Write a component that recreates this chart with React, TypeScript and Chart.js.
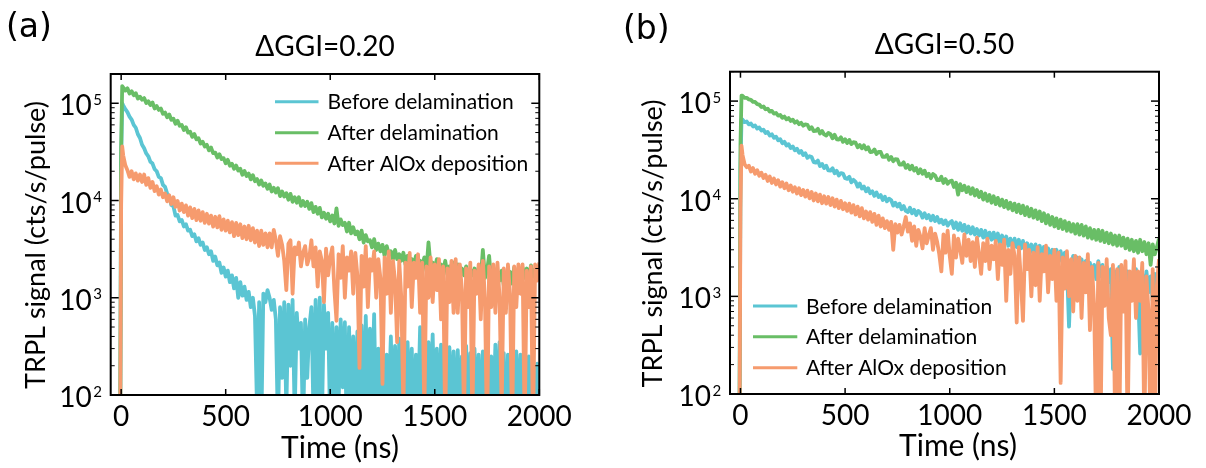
import React, { useEffect, useRef } from "react";
import { Chart, registerables } from "chart.js";

Chart.register(...registerables);

// ---------------- DATA ----------------
const TIME_NS = [
  -20, -5, 0, 5,
  10, 20, 30, 40, 50, 60, 70, 80, 90, 100,
  110, 120, 130, 140, 150, 160, 170, 180, 190, 200,
  210, 220, 230, 240, 250, 260, 270, 280, 290, 300,
  310, 320, 330, 340, 350, 360, 370, 380, 390, 400,
  410, 420, 430, 440, 450, 460, 470, 480, 490, 500,
  510, 520, 530, 540, 550, 560, 570, 580, 590, 600,
  610, 620, 630, 640, 650, 660, 670, 680, 690, 700,
  710, 720, 730, 740, 750, 760, 770, 780, 790, 800,
  810, 820, 830, 840, 850, 860, 870, 880, 890, 900,
  910, 920, 930, 940, 950, 960, 970, 980, 990, 1000,
  1010, 1020, 1030, 1040, 1050, 1060, 1070, 1080, 1090, 1100,
  1110, 1120, 1130, 1140, 1150, 1160, 1170, 1180, 1190, 1200,
  1210, 1220, 1230, 1240, 1250, 1260, 1270, 1280, 1290, 1300,
  1310, 1320, 1330, 1340, 1350, 1360, 1370, 1380, 1390, 1400,
  1410, 1420, 1430, 1440, 1450, 1460, 1470, 1480, 1490, 1500,
  1510, 1520, 1530, 1540, 1550, 1560, 1570, 1580, 1590, 1600,
  1610, 1620, 1630, 1640, 1650, 1660, 1670, 1680, 1690, 1700,
  1710, 1720, 1730, 1740, 1750, 1760, 1770, 1780, 1790, 1800,
  1810, 1820, 1830, 1840, 1850, 1860, 1870, 1880, 1890, 1900,
  1910, 1920, 1930, 1940, 1950, 1960, 1970, 1980, 1990, 2000,
];

// Panel (a) ΔGGI=0.20
const A_BEFORE = [
  10, 12, 25000, 100000,
  95000, 87000, 81000, 73000, 68000, 60000, 56000, 48000, 44000, 37500,
  34500, 30500, 28500, 25000, 24000, 21000, 20000, 17500, 17000, 14500,
  13800, 11800, 11000, 9000, 8700, 7000, 7100, 6100, 6300, 5400,
  5700, 4900, 5000, 4300, 4500, 3800, 4100, 3500, 3700, 3100,
  3300, 2800, 3000, 2400, 2650, 2150, 2300, 1800, 2050, 1650,
  1900, 1450, 1700, 1250, 1600, 1000, 1450, 1050, 1300, 950,
  1150, 800, 1000, 650, 70, 900, 40, 1100, 900, 1200,
  1000, 750, 950, 600, 45, 800, 150, 900, 70, 850,
  200, 950, 60, 700, 300, 550, 40, 600, 150, 500,
  800, 60, 950, 90, 1000, 50, 850, 300, 700, 40,
  550, 60, 500, 80, 600, 120, 560, 30, 500, 70,
  400, 50, 450, 90, 520, 30, 650, 70, 480, 100,
  680, 40, 300, 60, 350, 25, 260, 80, 400, 50,
  320, 40, 380, 90, 280, 30, 350, 60, 300, 40,
  260, 70, 500, 60, 580, 30, 350, 80, 420, 45,
  300, 50, 330, 80, 260, 25, 310, 60, 280, 40,
  290, 70, 250, 30, 320, 55, 270, 35, 300, 60,
  260, 40, 280, 75, 310, 30, 250, 60, 330, 45,
  350, 50, 270, 30, 260, 70, 240, 40, 280, 55,
  260, 35, 270, 60, 250, 30, 240, 65, 210, 40,
];

const A_AFTER = [
  20, 25, 35000, 150000,
  145000, 135000, 142500, 126000, 133000, 121000, 127000, 112000, 117000, 108600,
  113000, 100700, 105000, 96000, 101800, 88400, 93700, 85400, 88400, 77900,
  80300, 71700, 76600, 67700, 69400, 61600, 66200, 58700, 59700, 53200,
  56700, 49900, 51000, 45100, 48300, 42700, 43700, 38500, 40200, 36000,
  37400, 32800, 35000, 30700, 31100, 27700, 29900, 26700, 27300, 24200,
  26200, 22800, 23900, 21200, 22900, 20300, 21200, 18400, 20100, 17900,
  18900, 16500, 18200, 15800, 16600, 14600, 16100, 14200, 15000, 13200,
  14600, 12400, 13500, 12100, 13400, 11100, 12400, 11000, 11900, 10200,
  11700, 9700, 10800, 9500, 10800, 8800, 9900, 8800, 9700, 8200,
  9400, 7600, 8600, 7300, 8400, 6700, 7500, 6500, 7300, 6100,
  7000, 5800, 8300, 5500, 6400, 5600, 5900, 4800, 5900, 4600,
  5300, 4500, 4800, 4000, 4900, 3700, 4400, 3800, 3900, 3300,
  4000, 3100, 3600, 3000, 3500, 2700, 3400, 2800, 3000, 2500,
  3100, 2500, 2800, 2400, 2900, 2200, 2700, 2300, 2500, 2150,
  2700, 2100, 2400, 2100, 2600, 1900, 3700, 2100, 2300, 1950,
  2500, 1900, 2200, 1900, 2400, 1750, 2100, 1800, 2300, 1700,
  2200, 1650, 2000, 1700, 2100, 1600, 1950, 1700, 2000, 1500,
  2050, 1550, 3100, 1600, 1900, 2700, 1450, 2000, 1550, 1850,
  1500, 1900, 1350, 780, 1500, 1850, 1400, 2050, 1550, 1900,
  1450, 2050, 1600, 2000, 1500, 2150, 1650, 1950, 1700, 2100,
];

const A_ALOX = [
  10, 20, 9000, 36000,
  29000, 23000, 20500, 17500, 20000, 16500, 19000, 16000, 18500, 15500,
  18500, 14500, 17000, 13500, 15500, 12500, 14000, 11500, 13000, 10800,
  11800, 9800, 11300, 9200, 10800, 8600, 9900, 7900, 9300, 7600,
  8900, 7000, 8500, 6600, 8200, 6300, 7900, 6200, 7600, 5900,
  7300, 5800, 7000, 5400, 6800, 5300, 6900, 5000, 6400, 4900,
  6200, 4700, 6000, 4300, 5900, 4400, 5700, 4100, 5400, 4000,
  5500, 3900, 5200, 3700, 4900, 3400, 4900, 3500, 4600, 3300,
  4600, 3300, 5000, 3900, 2700, 4300, 3500, 2400, 1200, 3600,
  3900, 1100, 3300, 2800, 3700, 2100, 2900, 3400, 2200, 2600,
  3900, 2100, 3300, 1300, 3000, 2400, 900, 3200, 1700, 2600,
  3300, 1200, 580, 2800, 1600, 3400, 1000, 2600, 1900, 3000,
  1100, 2900, 1700, 190, 2700, 1300, 3400, 800, 2500, 1900,
  3000, 1000, 2500, 1600, 130, 2600, 1100, 3000, 700, 2400,
  1500, 350, 2400, 1000, 70, 2300, 1300, 2900, 800, 2300,
  1600, 2800, 700, 2300, 60, 2100, 1000, 2600, 900, 2200,
  1200, 2500, 600, 2100, 45, 2000, 900, 2400, 700, 2500,
  700, 2200, 1200, 55, 2000, 800, 2300, 50, 1900, 1100,
  2200, 600, 2400, 1000, 35, 2100, 800, 2200, 700, 2300,
  1000, 70, 2000, 700, 2200, 1100, 40, 2100, 800, 2200,
  1100, 2200, 45, 1900, 800, 2100, 40, 2200, 1500, 2300,
];

// Panel (b) ΔGGI=0.50
const B_BEFORE = [
  10, 15, 20000, 65000,
  64500, 60800, 61800, 57700, 58900, 55000, 56200, 52300, 53600, 50000,
  51000, 47000, 48300, 44400, 45700, 42000, 43200, 39600, 40700, 37000,
  38300, 35000, 36200, 33000, 34300, 31300, 32500, 29600, 30900, 28000,
  29200, 26200, 27300, 26700, 23700, 23400, 24600, 21600, 22700, 20600,
  21800, 19500, 19400, 20500, 18200, 19300, 17300, 18300, 18100, 16200,
  16000, 16800, 14700, 15600, 14900, 13300, 14300, 12700, 13300, 11900,
  12800, 11400, 11900, 10700, 11600, 10400, 10900, 9700, 10500, 9400,
  10000, 9700, 8500, 9100, 8300, 8900, 7800, 8400, 7500, 7300,
  8100, 7100, 7700, 6800, 7500, 7200, 6400, 7100, 6300, 6800,
  6000, 6700, 5900, 6500, 5700, 6100, 5500, 6000, 5300, 5700,
  5900, 5000, 5700, 4800, 5600, 4700, 5400, 4500, 5200, 4400,
  5100, 4300, 4900, 4200, 4800, 4000, 4700, 3900, 4500, 3800,
  4500, 3700, 4400, 3500, 4200, 3400, 4100, 3300, 3900, 3200,
  3900, 3200, 3800, 3100, 3700, 2900, 3500, 2800, 3400, 2700,
  3400, 2700, 3300, 2600, 3200, 2500, 3100, 2400, 3000, 2300,
  3000, 2300, 2900, 2200, 2800, 2100, 490, 2000, 2600, 1900,
  2500, 1900, 2400, 1800, 2300, 1700, 2200, 1600, 2100, 1500,
  2300, 1600, 2100, 1500, 2000, 1400, 1900, 180, 1800, 1300,
  2000, 1300, 1900, 1200, 1800, 1100, 1700, 1000, 1900, 1100,
  260, 1700, 1000, 1800, 1100, 1600, 900, 1700, 1000, 1500,
];

const B_AFTER = [
  20, 30, 36000, 114000,
  113000, 108000, 108000, 104000, 103000, 98000, 98000, 93000, 92000, 87000,
  88000, 82500, 83500, 78000, 79500, 74500, 75500, 71000, 72000, 67500,
  69500, 65000, 67000, 62500, 64500, 60000, 62000, 58000, 60000, 56000,
  57700, 57200, 51800, 54100, 49400, 49500, 52000, 46600, 49400, 45600,
  44400, 47200, 45900, 41600, 45200, 40600, 40400, 42500, 38200, 40700,
  37200, 40000, 36300, 37900, 37500, 33600, 35500, 32800, 35300, 32000,
  33700, 30100, 30200, 32000, 28700, 30200, 30100, 26800, 26800, 28100,
  25100, 26800, 24200, 25400, 25300, 22400, 22300, 23600, 20700, 22100,
  20000, 21800, 19400, 20600, 18200, 20000, 18000, 19400, 17000, 18000,
  16200, 17900, 17300, 15500, 15500, 16800, 14500, 15900, 14200, 15100,
  15300, 13200, 14600, 11000, 14100, 12200, 13600, 11700, 13100, 11200,
  12800, 10800, 12300, 10400, 11800, 9800, 11300, 9500, 10900, 9100,
  10600, 8800, 10200, 8500, 9800, 8200, 9500, 7900, 9100, 7600,
  8900, 7300, 8700, 7100, 8500, 6800, 8200, 6600, 7900, 6400,
  7600, 6200, 7400, 5900, 7100, 5600, 6800, 5400, 6500, 5200,
  6300, 5000, 6100, 4900, 5900, 4700, 5700, 4600, 5500, 4400,
  5500, 4300, 5400, 4200, 5200, 4000, 5000, 3900, 4800, 3800,
  4800, 3700, 4700, 3600, 4500, 3500, 4400, 3400, 4200, 3300,
  4200, 3300, 4000, 3100, 3900, 3000, 3800, 2900, 3700, 2800,
  3800, 2900, 3600, 2700, 3500, 2100, 3400, 2700, 3200, 3900,
];

const B_ALOX = [
  10, 20, 8000, 35000,
  28000, 22500, 21000, 21800, 19000, 20600, 18000, 19600, 17200, 18500,
  16300, 17600, 15200, 16900, 14500, 16100, 14000, 15500, 13300, 14800,
  12800, 14300, 12200, 13700, 11800, 13100, 11300, 12800, 10900, 12300,
  10500, 12100, 10100, 11700, 9600, 11300, 9400, 11000, 9000, 10600,
  8900, 10400, 8600, 10100, 8300, 9800, 8000, 9500, 7800, 9000,
  7500, 8900, 7200, 8600, 6900, 8300, 6600, 8000, 6300, 7400,
  6100, 7300, 5800, 7000, 5400, 6700, 5200, 6300, 5000, 5900,
  4800, 5800, 3000, 5500, 4500, 5400, 4300, 5200, 6500, 4600,
  5600, 3700, 5200, 3300, 4800, 4100, 3100, 5000, 3500, 4200,
  5000, 3000, 4400, 3600, 2700, 1800, 4300, 2800, 4700, 2600,
  1700, 4200, 2500, 3900, 3000, 2200, 4300, 2600, 3800, 2300,
  3600, 2000, 4000, 2700, 1700, 3500, 2300, 3900, 1900, 3300,
  2400, 3700, 1500, 3400, 2100, 3800, 900, 3000, 1700, 3500,
  2600, 540, 3200, 1500, 560, 3400, 1900, 3000, 1000, 2800,
  1300, 3200, 900, 2700, 1800, 3300, 1100, 2600, 1500, 3000,
  900, 2800, 130, 2500, 1200, 2900, 1000, 2400, 700, 2600,
  900, 2500, 600, 2200, 1100, 2700, 450, 2000, 800, 40,
  2200, 30, 2000, 800, 2400, 600, 400, 2100, 60, 1900,
  35, 2100, 700, 2300, 40, 1800, 900, 2400, 600, 1800,
  900, 2200, 40, 1600, 700, 30, 1900, 35, 1300, 2400,
];

const SERIES_LABELS = ["Before delamination", "After delamination", "After AlOx deposition"];
const PANEL_TAGS = ["(a)", "(b)"];
const PANEL_TITLES = ["ΔGGI=0.20", "ΔGGI=0.50"];
const X_TITLE = "Time (ns)";
const Y_TITLE = "TRPL signal (cts/s/pulse)";
const X_TICKS = [0, 500, 1000, 1500, 2000];
const Y_DECADES = [2, 3, 4, 5];

// ---------------- STYLE / LAYOUT ----------------
const COLORS = ["#5bc5d3", "#69be66", "#f69b6e"];
const FONT = "Lato, 'Open Sans', 'DejaVu Sans', sans-serif";
const CANVAS_W = 603;
const CANVAS_H = 468;

type PanelSpec = {
  offsetX: number;
  box: { l: number; r: number; t: number; b: number };
  tag: { x: number; y: number };
  titleY: number;
  xTitle: { x: number; y: number };
  yTitle: { x: number; y: number };
  legend: { x0: number; x1: number; tx: number; rows: number[] };
  series: number[][];
  index: number;
};

const PANELS: PanelSpec[] = [
  {
    offsetX: 0,
    box: { l: 110.7, r: 539.3, t: 74, b: 395 },
    tag: { x: 6, y: 37 },
    titleY: 56,
    xTitle: { x: 340, y: 458 },
    yTitle: { x: 36, y: 245 },
    legend: { x0: 275, x1: 318.5, tx: 327.5, rows: [101.7, 132.7, 163.3] },
    series: [A_BEFORE, A_AFTER, A_ALOX],
    index: 0,
  },
  {
    offsetX: 603,
    box: { l: 127, r: 556, t: 71.7, b: 394 },
    tag: { x: 20, y: 39 },
    titleY: 54,
    xTitle: { x: 355, y: 456 },
    yTitle: { x: 50, y: 243.5 },
    legend: { x0: 150, x1: 194.3, tx: 203, rows: [306, 336.7, 367.7] },
    series: [B_BEFORE, B_AFTER, B_ALOX],
    index: 1,
  },
];

function decorPlugin(spec: PanelSpec) {
  return {
    id: "decor" + spec.index,
    afterDraw(chart: any) {
      const ctx: CanvasRenderingContext2D = chart.ctx;
      const xs = chart.scales.x;
      const ys = chart.scales.y;
      const { left, right, top, bottom } = chart.chartArea;
      const seg = (x1: number, y1: number, x2: number, y2: number) => {
        ctx.beginPath();
        ctx.moveTo(x1, y1);
        ctx.lineTo(x2, y2);
        ctx.stroke();
      };
      ctx.save();
      ctx.strokeStyle = "#000";
      ctx.fillStyle = "#000";

      // ticks (inward)
      ctx.lineWidth = 1.5;
      for (const v of X_TICKS) {
        const x = xs.getPixelForValue(v);
        seg(x, bottom, x, bottom - 6);
        seg(x, top, x, top + 6);
      }
      for (const e of Y_DECADES) {
        for (let m = 1; m <= 9; m++) {
          const v = m * Math.pow(10, e);
          if (v > ys.max) break;
          const y = ys.getPixelForValue(v);
          const len = m === 1 ? 8 : 4;
          ctx.lineWidth = m === 1 ? 1.5 : 1;
          seg(left, y, left + len, y);
          seg(right, y, right - len, y);
        }
      }
      // frame
      ctx.lineWidth = 2;
      ctx.strokeRect(left, top, right - left, bottom - top);

      // x tick labels
      ctx.font = `28px ${FONT}`;
      ctx.textAlign = "center";
      ctx.textBaseline = "alphabetic";
      for (const v of X_TICKS) {
        ctx.fillText(String(v), xs.getPixelForValue(v), bottom + 30.5);
      }
      // y tick labels 10^n
      for (const e of Y_DECADES) {
        const y = ys.getPixelForValue(Math.pow(10, e));
        ctx.font = `28px ${FONT}`;
        ctx.textAlign = "right";
        ctx.fillText("10", left - 19, y + 12);
        ctx.font = `15px ${FONT}`;
        ctx.textAlign = "left";
        ctx.fillText(String(e), left - 17.5, y + 1.5);
      }

      // axis titles
      ctx.font = `30px ${FONT}`;
      ctx.textAlign = "center";
      ctx.fillText(X_TITLE, spec.xTitle.x, spec.xTitle.y);
      ctx.save();
      ctx.font = `27px ${FONT}`;
      ctx.translate(spec.yTitle.x, spec.yTitle.y);
      ctx.rotate(-Math.PI / 2);
      ctx.textBaseline = "middle";
      ctx.fillText(Y_TITLE, 0, 0);
      ctx.restore();

      // panel title
      ctx.font = `28px ${FONT}`;
      ctx.textAlign = "center";
      ctx.textBaseline = "alphabetic";
      ctx.fillText(PANEL_TITLES[spec.index], (left + right) / 2, spec.titleY);

      // tag
      ctx.font = `33px 'DejaVu Sans', sans-serif`;
      ctx.textAlign = "left";
      ctx.fillText(PANEL_TAGS[spec.index], spec.tag.x, spec.tag.y);

      // legend
      ctx.font = `21px ${FONT}`;
      ctx.textBaseline = "middle";
      SERIES_LABELS.forEach((lab, i) => {
        const y = spec.legend.rows[i];
        ctx.strokeStyle = COLORS[i];
        ctx.lineWidth = 3;
        seg(spec.legend.x0, y, spec.legend.x1, y);
        ctx.fillStyle = "#000";
        ctx.fillText(lab, spec.legend.tx, y + 1);
      });
      ctx.restore();
    },
  };
}

function Panel({ spec }: { spec: PanelSpec }) {
  const ref = useRef<HTMLCanvasElement | null>(null);
  useEffect(() => {
    if (!ref.current) return;
    const datasets = spec.series.map((vals, i) => ({
      label: SERIES_LABELS[i],
      data: TIME_NS.map((t, k) => ({ x: t, y: vals[k] })),
      borderColor: COLORS[i],
      backgroundColor: COLORS[i],
      borderWidth: 3.8,
      pointRadius: 0,
      tension: 0,
      fill: false,
      clip: 0,
      borderJoinStyle: "round" as const,
      order: 2 - i,
    }));
    const chart = new Chart(ref.current, {
      type: "line",
      data: { datasets },
      options: {
        responsive: false,
        animation: false,
        devicePixelRatio: 1,
        events: [],
        layout: {
          padding: {
            left: spec.box.l,
            right: CANVAS_W - spec.box.r,
            top: spec.box.t,
            bottom: CANVAS_H - spec.box.b,
          },
        },
        plugins: {
          legend: { display: false },
          title: { display: false },
          tooltip: { enabled: false },
        },
        scales: {
          x: { type: "linear", min: -50, max: 2000, display: false },
          y: { type: "logarithmic", min: 100, max: 200000, display: false },
        },
      },
      plugins: [decorPlugin(spec)],
    } as any);
    return () => chart.destroy();
  }, [spec]);
  return (
    <canvas
      ref={ref}
      width={CANVAS_W}
      height={CANVAS_H}
      style={{ position: "absolute", left: spec.offsetX, top: 0, width: CANVAS_W, height: CANVAS_H }}
    />
  );
}

export default function App() {
  return (
    <div style={{ position: "absolute", left: 0, top: 0, width: 1206, height: 468, background: "#fff", overflow: "hidden" }}>
      {PANELS.map((p) => (
        <Panel key={p.index} spec={p} />
      ))}
    </div>
  );
}
